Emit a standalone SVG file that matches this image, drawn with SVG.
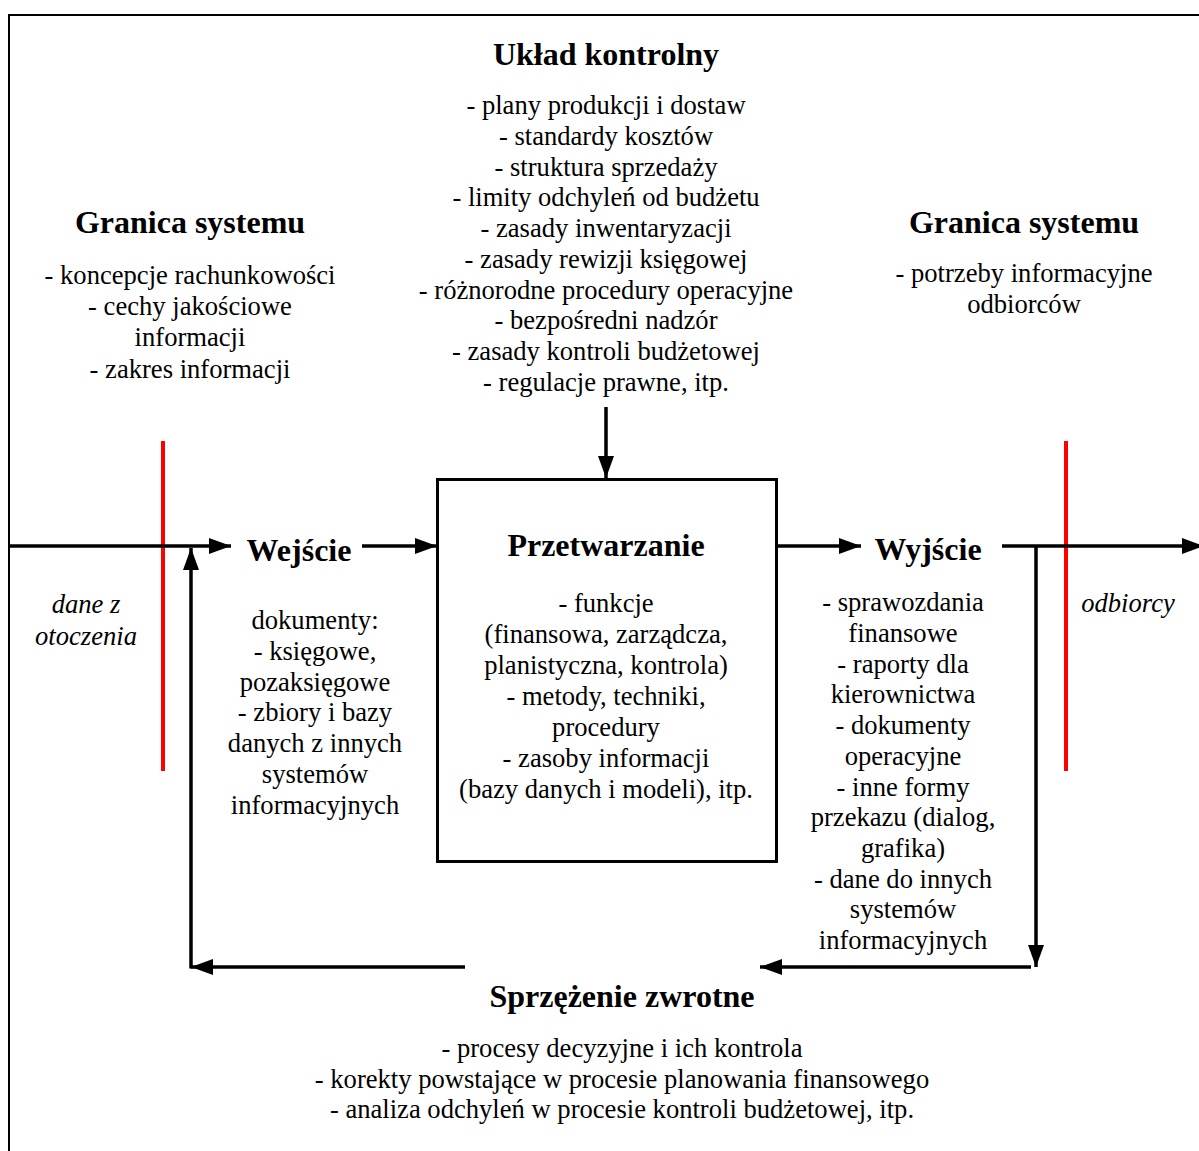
<svg xmlns="http://www.w3.org/2000/svg" width="1199" height="1151" viewBox="0 0 1199 1151">
<style>
text{font-family:"Liberation Serif","Times New Roman",serif;fill:#000;text-anchor:middle}
.t{font-size:26.6px}
.h{font-size:32px;font-weight:bold}
.i{font-size:26.6px;font-style:italic}
.ln{stroke:#000;stroke-width:3.5;fill:none}
.red{stroke:#ff0000;stroke-width:4}
</style>
<defs>
<marker id="a" markerWidth="22" markerHeight="16" refX="22" refY="8" orient="auto" markerUnits="userSpaceOnUse" viewBox="0 0 22 16">
<path d="M0,0 L22,8 L0,16 z" fill="#000"/>
</marker>
</defs>
<rect x="9" y="15" width="1200" height="1150" fill="none" stroke="#000" stroke-width="2"/>

<g id="boundary-left">
<line class="red" x1="163" y1="441" x2="163" y2="771"/>
<text class="h" x="190" y="233">Granica systemu</text>
<text class="t" x="190" y="284">- koncepcje rachunkowości</text>
<text class="t" x="190" y="315">- cechy jakościowe</text>
<text class="t" x="190" y="346">informacji</text>
<text class="t" x="190" y="378">- zakres informacji</text>
</g>

<g id="boundary-right">
<line class="red" x1="1066" y1="441" x2="1066" y2="771"/>
<text class="h" x="1024" y="233">Granica systemu</text>
<text class="t" x="1024" y="282">- potrzeby informacyjne</text>
<text class="t" x="1024" y="313">odbiorców</text>
</g>

<g id="control">
<text class="h" x="606" y="65">Układ kontrolny</text>
<text class="t" x="606" y="114">- plany produkcji i dostaw</text>
<text class="t" x="606" y="145">- standardy kosztów</text>
<text class="t" x="606" y="176">- struktura sprzedaży</text>
<text class="t" x="606" y="206">- limity odchyleń od budżetu</text>
<text class="t" x="606" y="237">- zasady inwentaryzacji</text>
<text class="t" x="606" y="268">- zasady rewizji księgowej</text>
<text class="t" x="606" y="299">- różnorodne procedury operacyjne</text>
<text class="t" x="606" y="329">- bezpośredni nadzór</text>
<text class="t" x="606" y="360">- zasady kontroli budżetowej</text>
<text class="t" x="606" y="391">- regulacje prawne, itp.</text>
</g>

<g id="environment">
<text class="i" x="86" y="613">dane z</text>
<text class="i" x="86" y="645">otoczenia</text>
</g>

<g id="input">
<text class="h" x="299" y="561">Wejście</text>
<text class="t" x="315" y="629">dokumenty:</text>
<text class="t" x="315" y="660">- księgowe,</text>
<text class="t" x="315" y="691">pozaksięgowe</text>
<text class="t" x="315" y="721">- zbiory i bazy</text>
<text class="t" x="315" y="752">danych z innych</text>
<text class="t" x="315" y="783">systemów</text>
<text class="t" x="315" y="814">informacyjnych</text>
</g>

<g id="processing">
<rect x="437.5" y="479.5" width="339" height="382" fill="none" stroke="#000" stroke-width="3"/>
<text class="h" x="606" y="556">Przetwarzanie</text>
<text class="t" x="606" y="612">- funkcje</text>
<text class="t" x="606" y="643">(finansowa, zarządcza,</text>
<text class="t" x="606" y="674">planistyczna, kontrola)</text>
<text class="t" x="606" y="705">- metody, techniki,</text>
<text class="t" x="606" y="736">procedury</text>
<text class="t" x="606" y="767">- zasoby informacji</text>
<text class="t" x="606" y="798">(bazy danych i modeli), itp.</text>
</g>

<g id="output">
<text class="h" x="928" y="560">Wyjście</text>
<text class="t" x="903" y="611">- sprawozdania</text>
<text class="t" x="903" y="642">finansowe</text>
<text class="t" x="903" y="673">- raporty dla</text>
<text class="t" x="903" y="703">kierownictwa</text>
<text class="t" x="903" y="734">- dokumenty</text>
<text class="t" x="903" y="765">operacyjne</text>
<text class="t" x="903" y="796">- inne formy</text>
<text class="t" x="903" y="826">przekazu (dialog,</text>
<text class="t" x="903" y="857">grafika)</text>
<text class="t" x="903" y="888">- dane do innych</text>
<text class="t" x="903" y="918">systemów</text>
<text class="t" x="903" y="949">informacyjnych</text>
</g>

<g id="recipients">
<text class="i" x="1128" y="612">odbiorcy</text>
</g>

<g id="feedback">
<text class="h" x="622" y="1007">Sprzężenie zwrotne</text>
<text class="t" x="622" y="1057">- procesy decyzyjne i ich kontrola</text>
<text class="t" x="622" y="1088">- korekty powstające w procesie planowania finansowego</text>
<text class="t" x="622" y="1118">- analiza odchyleń w procesie kontroli budżetowej, itp.</text>
</g>

<g id="connectors">
<line class="ln" x1="9" y1="546" x2="231" y2="546" marker-end="url(#a)"/>
<line class="ln" x1="362" y1="546" x2="437" y2="546" marker-end="url(#a)"/>
<line class="ln" x1="606" y1="407" x2="606" y2="478" marker-end="url(#a)"/>
<line class="ln" x1="776" y1="546" x2="861" y2="546" marker-end="url(#a)"/>
<line class="ln" x1="1002" y1="546" x2="1204" y2="546" marker-end="url(#a)"/>
<line class="ln" x1="1036" y1="546" x2="1036" y2="967" marker-end="url(#a)"/>
<line class="ln" x1="1031" y1="967" x2="760" y2="967" marker-end="url(#a)"/>
<line class="ln" x1="465" y1="967" x2="191" y2="967" marker-end="url(#a)"/>
<line class="ln" x1="191" y1="968.5" x2="191" y2="548" marker-end="url(#a)"/>
</g>
</svg>
